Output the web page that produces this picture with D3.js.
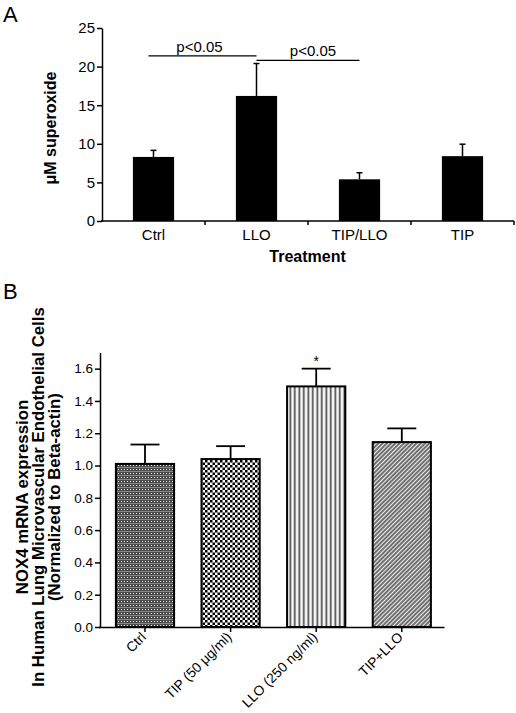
<!DOCTYPE html>
<html>
<head>
<meta charset="utf-8">
<script src="https://cdn.jsdelivr.net/npm/d3@7"></script>
<style>
html,body{margin:0;padding:0;background:#fff;}
svg{display:block;font-family:"Liberation Sans",Arial,Helvetica,sans-serif;}
</style>
</head>
<body>
<svg id="chart" width="516" height="713"></svg>
<script>
// ---------- Panel A data ----------
const catsA = ["Ctrl", "LLO", "TIP/LLO", "TIP"];
const valsA = [8.3, 16.2, 5.4, 8.4];
const errA  = [0.85, 4.2, 0.85, 1.55];
const ticksA = [0, 5, 10, 15, 20, 25];
const sigA = [
  {from: "Ctrl", to: "LLO", y: 21.4, label: "p<0.05"},
  {from: "LLO", to: "TIP/LLO", y: 20.8, label: "p<0.05"}
];

// ---------- Panel B data ----------
const catsB = ["Ctrl", "TIP (50 \u03bcg/ml)", "LLO (250 ng/ml)", "TIP+LLO"];
const valsB = [1.01, 1.04, 1.49, 1.145];
const errB  = [0.12, 0.08, 0.11, 0.085];
const ticksB = [0, 0.2, 0.4, 0.6, 0.8, 1.0, 1.2, 1.4, 1.6];
const starB = ["LLO (250 ng/ml)"];
const patternsB = ["patCtrl", "patTip", "patLlo", "patTipLlo"];

const svg = d3.select("#chart");

// ---------- patterns ----------
const defs = svg.append("defs");
// Ctrl: dense gray speckle with light horizontal rows
let p = defs.append("pattern").attr("id", "patCtrl").attr("patternUnits", "userSpaceOnUse")
  .attr("width", 3).attr("height", 4);
p.append("rect").attr("width", 3).attr("height", 4).attr("fill", "#4a4a4a");
p.append("rect").attr("x", 1).attr("y", 1).attr("width", 1).attr("height", 1).attr("fill", "#f0f0f0");
p.append("rect").attr("x", 0).attr("y", 3).attr("width", 3).attr("height", 0.6).attr("fill", "#b0b0b0");
// TIP: checkerboard
p = defs.append("pattern").attr("id", "patTip").attr("patternUnits", "userSpaceOnUse")
  .attr("width", 5).attr("height", 5);
p.append("rect").attr("width", 5).attr("height", 5).attr("fill", "#fff");
p.append("rect").attr("width", 2.5).attr("height", 2.5).attr("fill", "#000");
p.append("rect").attr("x", 2.5).attr("y", 2.5).attr("width", 2.5).attr("height", 2.5).attr("fill", "#000");
// LLO: vertical stripes
p = defs.append("pattern").attr("id", "patLlo").attr("patternUnits", "userSpaceOnUse")
  .attr("width", 4.5).attr("height", 10);
p.append("rect").attr("width", 4.5).attr("height", 10).attr("fill", "#f6f6f6");
p.append("rect").attr("x", 1.5).attr("width", 1.6).attr("height", 10).attr("fill", "#444");
// TIP+LLO: diagonal stripes
p = defs.append("pattern").attr("id", "patTipLlo").attr("patternUnits", "userSpaceOnUse")
  .attr("width", 3).attr("height", 10).attr("patternTransform", "rotate(45)");
p.append("rect").attr("width", 3).attr("height", 10).attr("fill", "#707070");
p.append("rect").attr("x", 0).attr("width", 1).attr("height", 10).attr("fill", "#eee");

// ================= PANEL A =================
const xA = d3.scaleBand().domain(catsA).range([102, 514]).padding(0);
const yA = d3.scaleLinear().domain([0, 25]).range([221, 28]);
const gA = svg.append("g");

gA.append("text").attr("x", 3).attr("y", 22).attr("font-size", 22).text("A");

// y axis
const axA = gA.append("g").attr("transform", "translate(102,0)")
  .call(d3.axisLeft(yA).tickValues(ticksA).tickSize(5).tickSizeOuter(0).tickFormat(d3.format("d")));
axA.select(".domain").attr("stroke-width", 1.5);
axA.selectAll(".tick line").attr("stroke-width", 1.5);
axA.selectAll(".tick text").attr("font-size", 15).attr("font-family", null).attr("x", -7);

// x axis line + boundary ticks
gA.append("line").attr("x1", 101).attr("x2", 514).attr("y1", yA(0)).attr("y2", yA(0))
  .attr("stroke", "#000").attr("stroke-width", 1.5);
gA.selectAll(".btick").data(catsA).enter().append("line")
  .attr("x1", d => xA(d) + xA.bandwidth()).attr("x2", d => xA(d) + xA.bandwidth())
  .attr("y1", yA(0)).attr("y2", yA(0) + 4).attr("stroke", "#000").attr("stroke-width", 1.5);
gA.selectAll(".xlab").data(catsA).enter().append("text")
  .attr("x", d => xA(d) + xA.bandwidth() / 2).attr("y", 240)
  .attr("text-anchor", "middle").attr("font-size", 15).text(d => d);
gA.append("text").attr("x", 307.5).attr("y", 262).attr("text-anchor", "middle")
  .attr("font-size", 16).attr("font-weight", "bold").text("Treatment");
gA.append("text").attr("transform", "translate(56,128) rotate(-90)").attr("text-anchor", "middle")
  .attr("font-size", 16).attr("font-weight", "bold").text("\u03bcM superoxide");

// bars
const bwA = xA.bandwidth() * 0.4;
gA.selectAll(".barA").data(catsA).enter().append("rect")
  .attr("x", d => xA(d) + xA.bandwidth() / 2 - bwA / 2)
  .attr("y", (d, i) => yA(valsA[i]))
  .attr("width", bwA)
  .attr("height", (d, i) => yA(0) - yA(valsA[i]))
  .attr("fill", "#000");
// error bars
gA.selectAll(".errA").data(catsA).enter().append("line")
  .attr("x1", d => xA(d) + xA.bandwidth() / 2).attr("x2", d => xA(d) + xA.bandwidth() / 2)
  .attr("y1", (d, i) => yA(valsA[i])).attr("y2", (d, i) => yA(valsA[i] + errA[i]))
  .attr("stroke", "#000").attr("stroke-width", 1.5);
gA.selectAll(".capA").data(catsA).enter().append("line")
  .attr("x1", d => xA(d) + xA.bandwidth() / 2 - 3).attr("x2", d => xA(d) + xA.bandwidth() / 2 + 3)
  .attr("y1", (d, i) => yA(valsA[i] + errA[i])).attr("y2", (d, i) => yA(valsA[i] + errA[i]))
  .attr("stroke", "#000").attr("stroke-width", 1.5);
// significance
sigA.forEach((s, k) => {
  const x1 = xA(s.from) + xA.bandwidth() / 2 - (k === 0 ? 5 : 0);
  const x2 = xA(s.to) + xA.bandwidth() / 2;
  gA.append("line").attr("x1", x1).attr("x2", x2).attr("y1", yA(s.y)).attr("y2", yA(s.y))
    .attr("stroke", "#000").attr("stroke-width", 1.2);
  gA.append("text").attr("x", (x1 + x2) / 2 + (k === 0 ? -3 : 5)).attr("y", yA(s.y) - 4).attr("text-anchor", "middle")
    .attr("font-size", 15).text(s.label);
});

// ================= PANEL B =================
const xB = d3.scaleBand().domain(catsB).range([102.2, 444.6]).paddingInner(0.32).paddingOuter(0.16);
const yB = d3.scaleLinear().domain([0, 1.7]).range([627, 352.5]);
const gB = svg.append("g");

gB.append("text").attr("x", 3).attr("y", 299).attr("font-size", 22).text("B");

const axB = gB.append("g").attr("transform", "translate(100,0)")
  .call(d3.axisLeft(yB).tickValues(ticksB).tickSize(5).tickSizeOuter(0).tickFormat(d3.format(".1f")));
axB.select(".domain").attr("stroke-width", 1.5);
axB.selectAll(".tick line").attr("stroke-width", 1.5);
axB.selectAll(".tick text").attr("font-size", 13.5).attr("font-family", null).attr("x", -7);

const axBx = gB.append("g").attr("transform", `translate(0,${yB(0)})`)
  .call(d3.axisBottom(xB).tickSize(5).tickSizeOuter(0));
axBx.select(".domain").attr("d", "M99,0.5H444.5").attr("stroke-width", 1.5);
axBx.selectAll(".tick line").attr("stroke-width", 1.5);
axBx.selectAll(".tick text").attr("font-size", 13.8).attr("font-family", null)
  .attr("text-anchor", "end").attr("dy", null)
  .attr("transform", "translate(2,11) rotate(-45)").attr("y", 0).attr("x", 0);

const ylabB = ["NOX4 mRNA expression", "In Human Lung Microvascular Endothelial Cells", "(Normalized to Beta-actin)"];
ylabB.forEach((t, i) => {
  gB.append("text").attr("transform", `translate(${28 + i * 16},497) rotate(-90)`)
    .attr("text-anchor", "middle").attr("font-size", 16.8).attr("font-weight", "bold").text(t);
});

// bars
gB.selectAll(".barB").data(catsB).enter().append("rect")
  .attr("x", d => xB(d))
  .attr("y", (d, i) => yB(valsB[i]))
  .attr("width", xB.bandwidth())
  .attr("height", (d, i) => yB(0) - yB(valsB[i]))
  .attr("fill", (d, i) => `url(#${patternsB[i]})`)
  .attr("stroke", "#000").attr("stroke-width", 2);
gB.selectAll(".errB").data(catsB).enter().append("line")
  .attr("x1", d => xB(d) + xB.bandwidth() / 2).attr("x2", d => xB(d) + xB.bandwidth() / 2)
  .attr("y1", (d, i) => yB(valsB[i])).attr("y2", (d, i) => yB(valsB[i] + errB[i]))
  .attr("stroke", "#000").attr("stroke-width", 1.8);
gB.selectAll(".capB").data(catsB).enter().append("line")
  .attr("x1", d => xB(d) + xB.bandwidth() / 2 - 14.5).attr("x2", d => xB(d) + xB.bandwidth() / 2 + 14.5)
  .attr("y1", (d, i) => yB(valsB[i] + errB[i])).attr("y2", (d, i) => yB(valsB[i] + errB[i]))
  .attr("stroke", "#000").attr("stroke-width", 1.8);
gB.selectAll(".star").data(starB).enter().append("text")
  .attr("x", d => xB(d) + xB.bandwidth() / 2)
  .attr("y", d => yB(valsB[catsB.indexOf(d)] + errB[catsB.indexOf(d)]) - 3)
  .attr("text-anchor", "middle").attr("font-size", 14).text("*");
</script>
</body>
</html>
